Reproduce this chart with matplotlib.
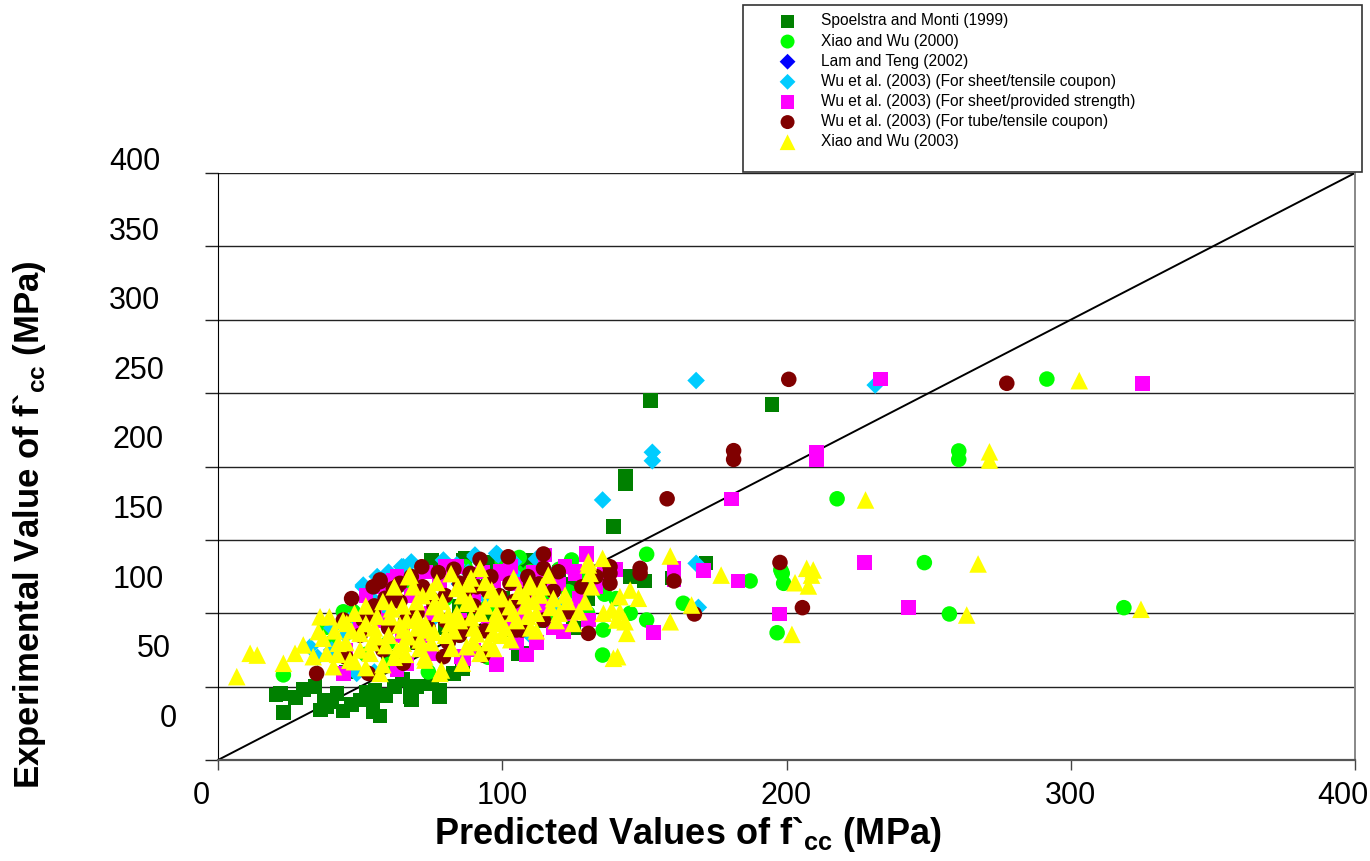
import matplotlib
matplotlib.use('Agg')
import matplotlib.pyplot as plt
import matplotlib.transforms as mtransforms
from matplotlib.patches import Rectangle
import numpy as np

plt.rcParams['font.family'] = ['Liberation Sans', 'DejaVu Sans']
plt.rcParams['mathtext.fontset'] = 'custom'
plt.rcParams['mathtext.rm'] = 'Liberation Sans'
plt.rcParams['mathtext.bf'] = 'Liberation Sans:bold'

# Spoelstra and Monti (1999)
sm_x = [20.4, 23, 27.3, 22, 30, 34.1, 37.5, 38.2, 36, 40, 41.8, 44, 47, 50, 52, 54.6, 55.2, 54.6, 57, 59,
        62, 67.5, 67.5, 68.1, 70, 75.2, 77.9, 78, 82.8, 86, 93.9, 94.5, 101.6, 105.6, 106.8,
        45, 60, 70, 80, 90, 75.2, 86.3, 86.9, 95, 100, 106.8, 107.4, 117.4, 117.4, 125, 130,
        96, 110, 120, 135, 145, 85, 95, 115, 125, 65,
        139.1, 143.3, 143.3, 149.9, 150.2, 152.1, 159.7, 171.7, 194.9]
sm_y = [44.3, 32.2, 42.7, 45.5, 48, 50, 41, 36.3, 34, 40, 45.4, 33.5, 38, 40.9, 46, 33, 47.7, 38.6, 30, 44,
        50, 47.7, 43, 40.9, 50, 52, 47.7, 43, 59, 62, 72.7, 72.7, 88.6, 72.7, 72.7,
        60, 70, 80, 90, 100, 136.3, 136.3, 137.4, 120, 110, 134, 131.7, 103.4, 102.2, 120, 110,
        135, 136, 128, 120, 125, 105, 95, 95, 90, 55,
        159, 193.5, 188, 122, 122, 245, 124, 134.2, 242.4]

# Xiao and Wu (2000)
xw00_x = [23, 38, 44.1, 47.6, 40, 50, 55, 60, 65, 70, 74, 80, 86.9, 90, 95, 100, 105, 109.8, 109.8, 115,
          118, 119.1, 123.2, 124.4, 128, 135, 136, 135.5, 135.3, 150.8, 150.8, 163.7, 187.2, 196.7,
          198, 198.5, 199, 217.8, 248.5, 257.3, 260.6, 260.6, 291.6, 318.7, 60, 85, 95, 130, 120,
          100, 106, 112, 125, 132, 126, 140, 145, 60, 52]
xw00_y = [58, 90.4, 101, 101, 80, 95, 105, 112, 120, 125, 60, 110, 131.7, 120, 105, 95, 128, 127.2, 128.3, 110,
          95.4, 118, 114.7, 136.3, 125, 115.8, 113, 88.6, 71.5, 140.2, 95.4, 106.8, 122, 86.7,
          129.5, 127.2, 120.4, 178, 134.5, 99.5, 210.6, 204.8, 259.6, 103.8, 80, 85, 70, 100, 130,
          135, 138, 125, 130, 122, 105, 110, 100, 65, 72]

# Lam and Teng (2002)
lt_x = [60, 70, 85, 95, 100]
lt_y = [100, 115, 120, 110, 100]

# Wu et al. (2003) (For sheet/tensile coupon)
wst_x = [51.1, 53.5, 54.1, 51.1, 64.6, 65.2, 79.3, 90.4, 90.4, 98, 98.6, 109.8, 109.8, 60, 70, 75, 85,
         95, 100, 105, 115, 120, 45, 40, 35, 55, 65, 32.4, 48.8, 135.3, 152.8, 152.8, 168.2, 231.2,
         168.2, 169, 56, 60, 68, 72, 84, 88, 104, 112, 46, 40]
wst_y = [118, 110.2, 110.2, 119.2, 131.7, 131.7, 136.3, 138.5, 139.7, 140.8, 139.7, 86.3, 85.2, 100, 115, 95, 120,
         110, 100, 125, 130, 105, 85, 75, 70, 60, 65, 77, 59, 177.2, 209.7, 203.9, 258.6, 255.5,
         134, 104, 125, 128, 135, 130, 133, 128, 135, 137, 95, 90]

# Wu et al. (2003) (For sheet/provided strength)
wsp_x = [44.1, 61.7, 62.9, 66.4, 74.6, 79.9, 80.4, 82.2, 85.7, 86.3, 99.2, 100.4, 102.1, 103.9, 107.4,
         108.6, 115, 121.5, 125.6, 125.6, 129.7, 129.7, 130.3, 153.2, 160.4, 160.4, 170.9, 180.6, 183,
         197.6, 210.5, 210.5, 227.5, 233.1, 242.9, 325.2,
         50, 55, 60, 70, 75, 90, 95, 110, 115, 120, 65, 85, 105, 45, 140,
         52, 57, 63, 68, 73, 78, 84, 88, 93, 97, 103, 106, 111, 116, 122, 127, 133, 136,
         58, 72, 90, 112, 118, 124, 98]
wsp_y = [59, 122.7, 61.3, 65.9, 72.7, 131.7, 129.5, 127.2, 70.4, 69.3, 128.3, 127.2, 95.4, 102.2, 100,
         71.5, 139.7, 87.5, 127.2, 128.3, 139.7, 140.8, 95.4, 86.7, 130.6, 122.7, 129, 178, 122,
         99.5, 210, 204.4, 134.5, 259.6, 103.8, 256.7,
         90, 100, 110, 120, 100, 110, 90, 115, 105, 120, 85, 95, 80, 75, 130,
         112, 118, 125, 112, 128, 120, 132, 118, 128, 122, 132, 120, 128, 122, 132, 110, 118, 128,
         95, 85, 75, 80, 90, 100, 65]

# Wu et al. (2003) (For tube/tensile coupon)
wtt_x = [34.7, 44.1, 51.1, 52.9, 54.6, 54.6, 54.6, 57, 57, 58.8, 61.7, 62.9, 64, 64, 65.2, 71.7, 77.5,
         79.3, 85.1, 88.7, 92.2, 93.3, 102.1, 102.7, 105, 106.8, 107.4, 114.5, 114.5, 114.5, 119.7,
         123.2, 130.3, 137.9, 137.9, 137.9, 148.5, 148.5, 158, 160.4, 167.6, 181.4, 181.4, 197.7,
         200.8, 205.6, 277.5,
         60, 70, 75, 80, 90, 95, 100, 70, 85, 45, 110,
         55, 62, 68, 72, 76, 80, 83, 87, 91, 96, 99, 104, 109, 113, 118, 66, 74, 81, 88, 94,
         58, 50, 47, 128, 133]
wtt_y = [59, 95.4, 95.4, 59, 118, 98.8, 100, 121.5, 122.7, 110.2, 116.9, 118, 120.4, 107.9, 65.9, 131.7, 127.7,
         70.4, 120.4, 127.2, 136.7, 71.5, 138.5, 120.4, 88.6, 88.6, 112.4, 140.4, 130.6, 95.4, 128.3,
         101, 86.3, 131.7, 127.2, 120.4, 130.6, 127.2, 178, 122, 99.5, 210.8, 204.8, 134.6,
         259.4, 103.8, 256.7,
         90, 100, 110, 95, 105, 115, 100, 80, 85, 70, 120,
         105, 112, 125, 118, 105, 112, 130, 115, 118, 125, 112, 108, 125, 120, 115, 95, 90, 80, 92, 88,
         75, 85, 110, 118, 125]

# Xiao and Wu (2003)
xw03_x = [6.6, 11.3, 13.8, 23, 27.1, 30, 33.5, 35.3, 35.9, 38.2, 39.2, 40.6, 42.3, 45.3, 46.4, 50, 53.5,
          55.8, 57, 60.5, 65.2, 65.2, 66.4, 67, 67.5, 68.7, 69.3, 69.9, 71.1, 72.8, 72.8, 74, 75.7,
          76.3, 78.1, 78.6, 81.6, 82.2, 84, 84, 84.5, 87.5, 87.5, 88.7, 92.2, 92.2, 92.2, 96.3,
          96.9, 96.9, 102.7, 109.8, 109.8, 113.3, 116.2, 122.1, 125, 129.1, 130.3, 130.3, 130.9,
          131.4, 135.3, 135.6, 138.5, 139.1, 140.3, 140.6, 141.4, 141.4, 143.2, 143.8, 145, 147.9,
          159.1, 159.1, 166.6, 177, 201.9, 203, 207.1, 207.7, 208.8, 209.4, 227.8, 263.4, 267.4,
          271.4, 271.4, 303, 324.7,
          45, 50, 55, 60, 62, 65, 70, 75, 78, 80, 85, 90, 95, 98, 100, 105, 108, 112, 118, 120,
          48, 52, 58, 63, 37, 41, 100, 110, 88, 75,
          44, 47, 52, 56, 59, 61, 64, 67, 70, 73, 76, 79, 81, 83, 86, 89, 91, 94, 97, 99,
          101, 104, 106, 109, 111, 114, 117, 119, 123, 127, 58, 62, 72, 77, 82, 89, 94, 104,
          108, 54, 66, 71, 86, 90, 48, 42, 52, 97, 103, 112]
xw03_y = [56.8, 72.7, 71.5, 65.9, 72.7, 78.4, 70.4, 87.5, 97.6, 72.7, 97.6, 63.6, 79.5, 93.1, 68.1, 86.3, 72.7,
          84, 59, 97.6, 79.5, 88.6, 95.4, 124.9, 126, 118, 95.4, 107.9, 81.8, 68.1, 70.4, 88.6, 104.5,
          106.8, 59, 61.3, 93.1, 76.1, 116.9, 100, 118, 106.8, 77.2, 107.9, 130.6, 72.7, 100, 115.8,
          86.3, 93.1, 104.5, 118, 120.4, 112.4, 126, 112.4, 93.1, 107.9, 132.9, 135.1, 127.2,
          118, 137.4, 100, 102.2, 69.3, 95.4, 70.4, 111.3, 101, 94.2, 86.3, 115.8, 110.2,
          139, 94.2, 105.6, 126, 85.6, 120.8, 130.6, 118.6, 126, 129.5, 177.2, 98.8, 133.6,
          210, 204.4, 258.5, 102.7,
          80, 75, 90, 85, 70, 105, 90, 80, 100, 85, 95, 90, 80, 100, 110, 95, 105, 100, 110, 100,
          100, 105, 65, 75, 83, 88, 85, 90, 120, 115,
          95, 88, 93, 98, 78, 103, 92, 84, 98, 93, 87, 108, 99, 88, 112, 97, 86, 105, 110, 95,
          90, 100, 115, 98, 108, 118, 104, 95, 108, 101, 108, 118, 112, 121, 127, 124, 121, 124,
          112, 80, 72, 76, 66, 80, 67, 72, 63, 76, 82, 88]

series = [
    ('Spoelstra and Monti (1999)', sm_x, sm_y, 's', '#008000', 110),
    ('Xiao and Wu (2000)', xw00_x, xw00_y, 'o', '#00FF00', 125),
    ('Lam and Teng (2002)', lt_x, lt_y, 'D', '#0000FF', 80),
    ('Wu et al. (2003) (For sheet/tensile coupon)', wst_x, wst_y, 'D', '#00CCFF', 80),
    ('Wu et al. (2003) (For sheet/provided strength)', wsp_x, wsp_y, 's', '#FF00FF', 110),
    ('Wu et al. (2003) (For tube/tensile coupon)', wtt_x, wtt_y, 'o', '#800000', 125),
    ('Xiao and Wu (2003)', xw03_x, xw03_y, '^', '#FFFF00', 160),
]

ytick_labels = ['0', '50', '100', '150', '200', '250', '300', '350', '400']
xtick_vals = [0, 100, 200, 300, 400]

fig = plt.figure(figsize=(13.7, 8.61), dpi=100)
ax = fig.add_axes([218 / 1370, 1 - 760 / 861, 1137 / 1370, 587 / 861])

handles = []
for name, xs, ys, mk, col, sz in series:
    h = ax.scatter(xs, ys, marker=mk, s=sz, color=col, edgecolors='none', label=name, zorder=3)
    handles.append(h)

# line of equality, under the markers
ax.plot([0, 400], [0, 400], color='black', lw=1.4, zorder=2.5)

ax.set_xlim(0, 400)
ax.set_ylim(0, 400)
ax.set_xticks(xtick_vals)
ax.set_xticklabels([str(v) for v in xtick_vals], fontsize=22)
ax.set_yticks(np.arange(0, 401, 50))
ax.set_yticklabels([])
ax.yaxis.grid(True, color='#222222', lw=1.0)
ax.set_axisbelow(True)
ax.tick_params(axis='y', length=9.5, width=1, color='#222222')
ax.tick_params(axis='x', length=7, width=1, pad=8, color='#444444')

# first and last x labels sit a bit to the left in the original
xlab = ax.get_xticklabels()
xlab[0].set_transform(xlab[0].get_transform() + mtransforms.ScaledTranslation(-17 / 100, 0, fig.dpi_scale_trans))
xlab[-1].set_transform(xlab[-1].get_transform() + mtransforms.ScaledTranslation(-12 / 100, 0, fig.dpi_scale_trans))

ax.spines['top'].set_visible(False)
ax.spines['left'].set_color('black')
ax.spines['bottom'].set_color('#555555')
ax.spines['bottom'].set_linewidth(1.6)
ax.spines['right'].set_color('#888888')
ax.spines['right'].set_linewidth(1.4)

# y labels sit off the gridlines in the original
ylab_pos = np.linspace(28, 407.5, 9)
ylab_right = [177, 171, 164, 164, 164, 164, 160, 160, 160]
trans = mtransforms.blended_transform_factory(ax.transAxes, ax.transData)
for lab, yp, xr in zip(ytick_labels, ylab_pos, ylab_right):
    ax.text((xr - 218) / 1137, yp, lab, transform=trans, ha='right', va='center', fontsize=22)

fig.text(688 / 1370, 1 - 835 / 861, r'Predicted Values of f`$_{\mathbf{cc}}$ (MPa)',
         ha='center', va='center', fontsize=26, fontweight='bold')
fig.text(30 / 1370, 1 - 525 / 861, r'Experimental Value of f`$_{\mathbf{cc}}$ (MPa)',
         ha='center', va='center', rotation=90, fontsize=25, fontweight='bold')

# legend box
fig.add_artist(Rectangle((743 / 1370, 1 - 172 / 861), 619 / 1370, 167 / 861,
                         transform=fig.transFigure, fill=False, edgecolor='#333333', lw=1.2))
fig.legend(handles=handles, loc='upper left', bbox_to_anchor=(772 / 1370, 1 - 13.5 / 861),
           frameon=False, fontsize=11.2, labelspacing=0.33, handletextpad=1.13,
           scatterpoints=1, borderpad=0, borderaxespad=0, markerscale=0.9)

fig.savefig('out.png', dpi=100)
